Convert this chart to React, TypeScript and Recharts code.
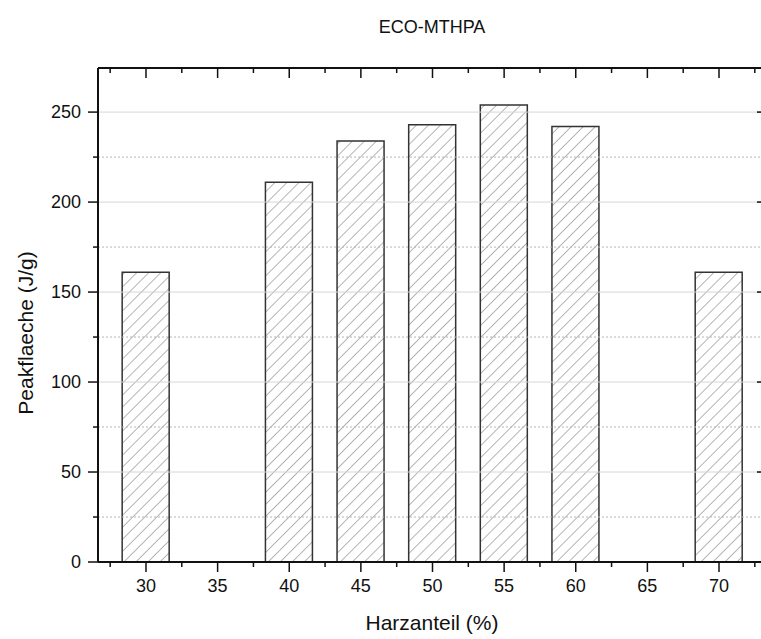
import { BarChart, Bar, XAxis, YAxis, ReferenceLine } from 'recharts';

// Harzanteil (%) vs. Peakflaeche (J/g), ECO-MTHPA series
const harzanteil = [30, 35, 40, 45, 50, 55, 60, 65, 70];
const peakflaeche = [161, null, 211, 234, 243, 254, 242, null, 161];

const xTicks = [27.5, 30, 32.5, 35, 37.5, 40, 42.5, 45, 47.5, 50, 52.5, 55, 57.5, 60, 62.5, 65, 67.5, 70, 72.5];
const yTicks = [0, 25, 50, 75, 100, 125, 150, 175, 200, 225, 250];
const majorGrid = [50, 100, 150, 200, 250];
const minorGrid = [25, 75, 125, 175, 225];

const data = harzanteil.map((x, i) => ({ x, value: peakflaeche[i] }));

const FONT = '"Liberation Sans", Arial, sans-serif';
const AXIS = '#111';

function BottomTick({ x, y, payload }: any) {
  const major = payload.value % 5 === 0;
  return (
    <g>
      <line x1={x} x2={x} y1={y} y2={y + (major ? 10 : 5)} stroke={AXIS} strokeWidth={1.5} />
      {major && (
        <text x={x} y={y + 30} textAnchor="middle" fontSize={18} fontFamily={FONT} fill="#111">
          {payload.value}
        </text>
      )}
    </g>
  );
}

function TopTick({ x, y, payload }: any) {
  const major = payload.value % 5 === 0;
  return <line x1={x} x2={x} y1={y} y2={y + (major ? 10 : 5)} stroke={AXIS} strokeWidth={1.5} />;
}

function LeftTick({ x, y, payload }: any) {
  const major = payload.value % 50 === 0;
  return (
    <g>
      <line x1={x - (major ? 10 : 5)} x2={x} y1={y} y2={y} stroke={AXIS} strokeWidth={1.5} />
      {major && (
        <text x={x - 17} y={y + 6} textAnchor="end" fontSize={18} fontFamily={FONT} fill="#111">
          {payload.value}
        </text>
      )}
    </g>
  );
}

function RightTick({ x, y, payload }: any) {
  const major = payload.value % 50 === 0;
  return <line x1={x - (major ? 10 : 5)} x2={x} y1={y} y2={y} stroke={AXIS} strokeWidth={1.5} />;
}

export default function App() {
  return (
    <div
      style={{
        position: 'absolute',
        left: 0,
        top: 0,
        width: 761,
        height: 639,
        overflow: 'hidden',
        background: '#fff',
        fontFamily: FONT,
      }}
    >
      <div style={{ position: 'absolute', left: 0, width: 864, top: 17, textAlign: 'center', fontSize: 18, color: '#111' }}>
        ECO-MTHPA
      </div>
      <div
        style={{
          position: 'absolute',
          left: 26,
          top: 333,
          transform: 'translate(-50%, -50%) rotate(-90deg)',
          whiteSpace: 'nowrap',
          fontSize: 21,
          color: '#111',
        }}
      >
        Peakflaeche (J/g)
      </div>
      <div style={{ position: 'absolute', left: 0, width: 864, top: 611, textAlign: 'center', fontSize: 21, color: '#111' }}>
        Harzanteil (%)
      </div>

      <div style={{ position: 'absolute', left: 0, top: 0 }}>
        <BarChart width={800} height={639} data={data} margin={{ top: 67, right: 32, bottom: 39, left: 38 }}>
          <defs>
            <pattern id="hatch" patternUnits="userSpaceOnUse" width={8.5} height={8.5} patternTransform="rotate(45)">
              <rect width={8.5} height={8.5} fill="rgba(255,255,255,0.15)" />
              <line x1={0} y1={0} x2={0} y2={8.5} stroke="#6a6a6a" strokeWidth={1} />
            </pattern>
          </defs>

          {minorGrid.map((v) => (
            <ReferenceLine key={`mn-${v}`} y={v} stroke="#b5b5b5" strokeWidth={1} strokeDasharray="2 2" />
          ))}
          {majorGrid.map((v) => (
            <ReferenceLine key={`mj-${v}`} y={v} stroke="#d6d6d6" strokeWidth={1} />
          ))}

          <XAxis
            dataKey="x"
            type="number"
            domain={[26.65, 73.35]}
            ticks={xTicks}
            interval={0}
            allowDataOverflow
            height={38}
            tickSize={0}
            tickMargin={0}
            tickLine={false}
            tick={<BottomTick />}
            axisLine={{ stroke: AXIS, strokeWidth: 2 }}
          />
          <XAxis
            xAxisId="top"
            orientation="top"
            dataKey="x"
            type="number"
            domain={[26.65, 73.35]}
            ticks={xTicks}
            interval={0}
            allowDataOverflow
            height={1}
            tickSize={0}
            tickMargin={0}
            tickLine={false}
            tick={<TopTick />}
            axisLine={{ stroke: AXIS, strokeWidth: 2 }}
          />
          <YAxis
            type="number"
            domain={[0, 274.5]}
            ticks={yTicks}
            interval={0}
            allowDataOverflow
            width={60}
            tickSize={0}
            tickMargin={0}
            tickLine={false}
            tick={<LeftTick />}
            axisLine={{ stroke: AXIS, strokeWidth: 2 }}
          />
          <YAxis
            yAxisId="right"
            orientation="right"
            type="number"
            domain={[0, 274.5]}
            ticks={yTicks}
            interval={0}
            allowDataOverflow
            width={1}
            tickSize={0}
            tickMargin={0}
            tickLine={false}
            tick={<RightTick />}
            axisLine={{ stroke: AXIS, strokeWidth: 2 }}
          />

          <Bar dataKey="value" barSize={47} fill="url(#hatch)" stroke="#333" strokeWidth={1.5} isAnimationActive={false} />
        </BarChart>
      </div>
    </div>
  );
}
